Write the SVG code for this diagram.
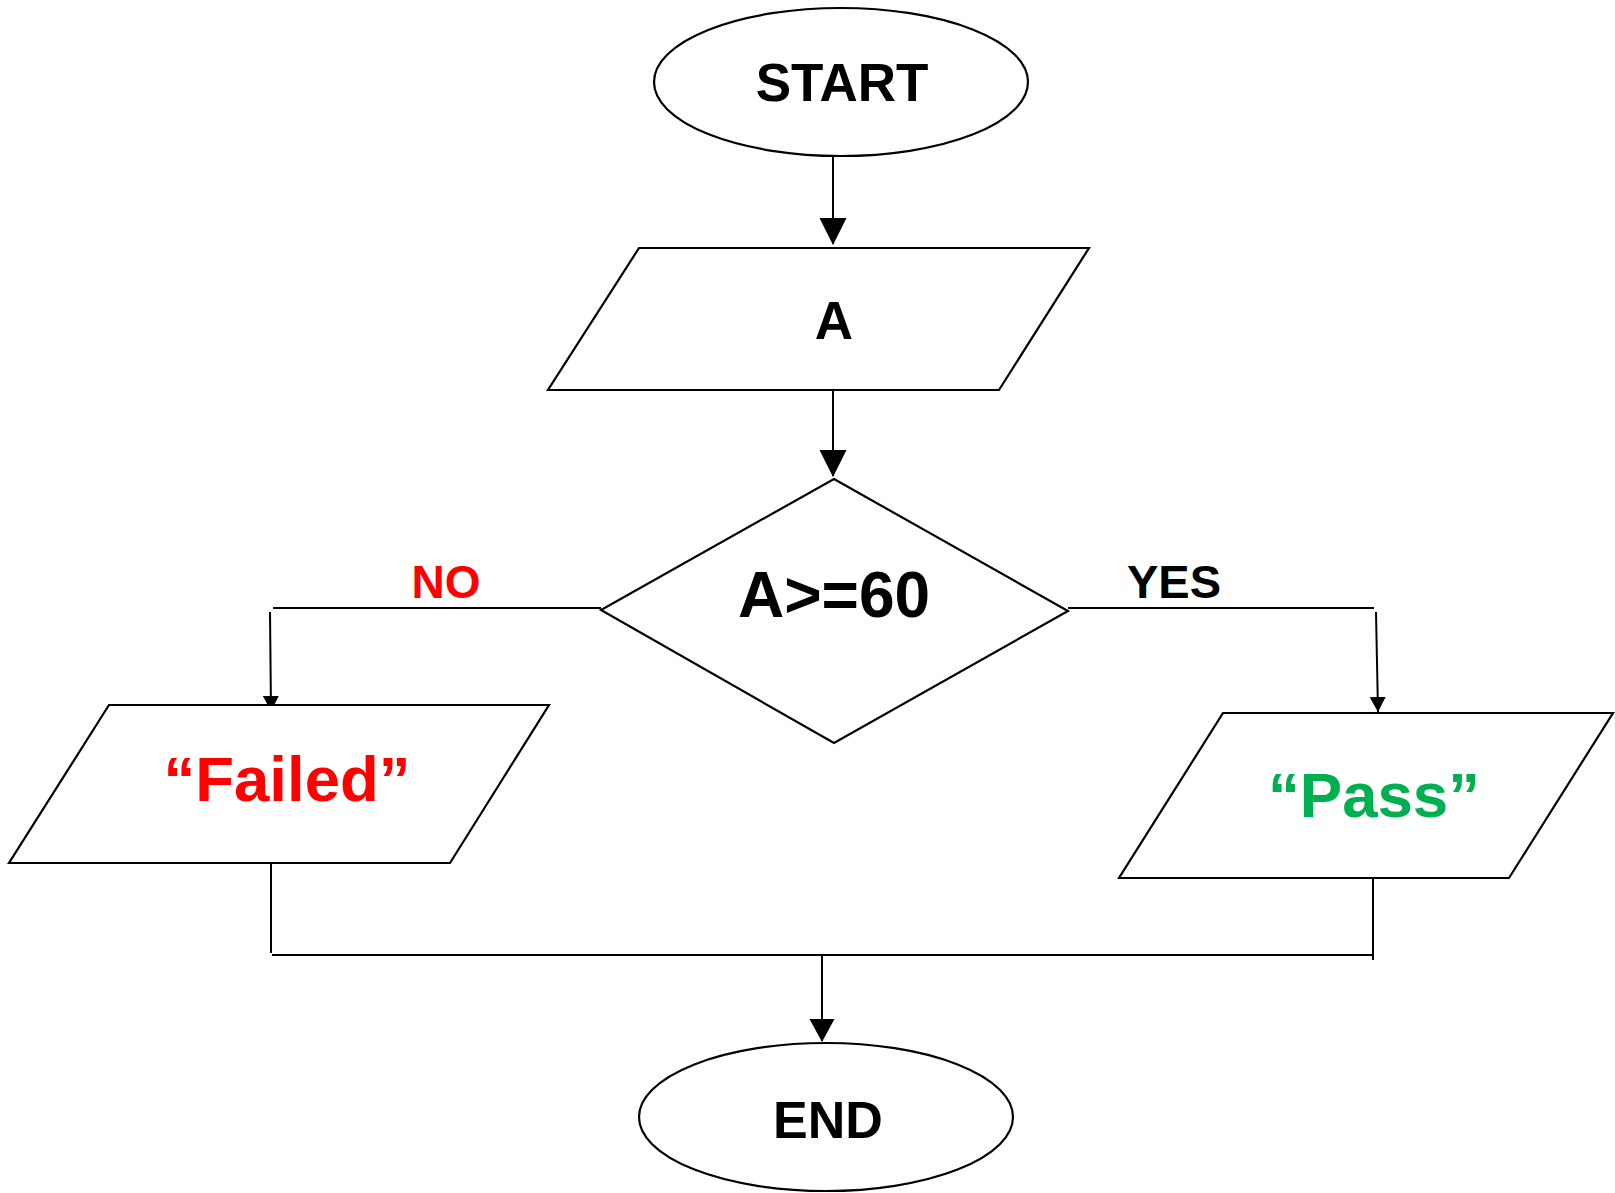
<svg xmlns="http://www.w3.org/2000/svg" width="1615" height="1193" viewBox="0 0 1615 1193">
  <style>
    .shape { fill: #ffffff; stroke: #000000; stroke-width: 2.2; }
    .line { fill: none; stroke: #000000; stroke-width: 2; }
    .lbl { font-family: "Liberation Sans", Arial, sans-serif; font-weight: bold; text-anchor: middle; }
  </style>
  <defs>
    <marker id="arrowBig" markerUnits="userSpaceOnUse" markerWidth="28" markerHeight="28" refX="26" refY="13.5" orient="auto">
      <path d="M0,0 L27,13.5 L0,27 z" fill="#000000"/>
    </marker>
    <marker id="arrowMid" markerUnits="userSpaceOnUse" markerWidth="26" markerHeight="26" refX="22" refY="12.5" orient="auto">
      <path d="M0,0 L23,12.5 L0,25 z" fill="#000000"/>
    </marker>
    <marker id="arrowSmall" markerUnits="userSpaceOnUse" markerWidth="18" markerHeight="18" refX="15" refY="8" orient="auto">
      <path d="M0,0 L15,8 L0,16 z" fill="#000000"/>
    </marker>
  </defs>

  <rect width="1615" height="1193" fill="#ffffff"/>

  <!-- connectors -->
  <g id="connectors">
    <line class="line" x1="833" y1="156" x2="833" y2="244" marker-end="url(#arrowBig)"/>
    <line class="line" x1="833" y1="390" x2="833" y2="476" marker-end="url(#arrowBig)"/>
    <!-- NO branch -->
    <line class="line" x1="273" y1="608" x2="601" y2="608"/>
    <line class="line" x1="270" y1="612" x2="271" y2="711" marker-end="url(#arrowSmall)"/>
    <!-- YES branch -->
    <line class="line" x1="1068" y1="608" x2="1374" y2="608"/>
    <line class="line" x1="1376" y1="612" x2="1378" y2="712" marker-end="url(#arrowSmall)"/>
    <!-- merge to END -->
    <line class="line" x1="271" y1="863" x2="271" y2="953"/>
    <line class="line" x1="1373" y1="878" x2="1373" y2="960"/>
    <line class="line" x1="272" y1="955" x2="1373" y2="955"/>
    <line class="line" x1="822" y1="956" x2="822" y2="1041" marker-end="url(#arrowMid)"/>
  </g>

  <g id="start">
    <ellipse class="shape" cx="841" cy="82" rx="187" ry="74"/>
    <text class="lbl" x="842" y="101" font-size="53" fill="#000000">START</text>
  </g>

  <g id="input-a">
    <polygon class="shape" points="639,248 1089,248 999,390 548,390"/>
    <text class="lbl" x="834" y="339" font-size="53" fill="#000000">A</text>
  </g>

  <g id="decision">
    <polygon class="shape" points="834,479 1068,611 834,743 601,610"/>
    <text class="lbl" x="834" y="617" font-size="64" fill="#000000">A&gt;=60</text>
  </g>

  <g id="label-no">
    <text class="lbl" x="446" y="598" font-size="46" fill="#ff0000">NO</text>
  </g>

  <g id="label-yes">
    <text class="lbl" x="1174" y="598" font-size="47" fill="#000000">YES</text>
  </g>

  <g id="output-failed">
    <polygon class="shape" points="109,705 549,705 450,863 9,863"/>
    <text class="lbl" x="287" y="801" font-size="63.5" fill="#ff0000">“Failed”</text>
  </g>

  <g id="output-pass">
    <polygon class="shape" points="1223,713 1613,713 1509,878 1119,878"/>
    <text class="lbl" x="1374" y="817" font-size="63.5" fill="#00b050">“Pass”</text>
  </g>

  <g id="end">
    <ellipse class="shape" cx="826" cy="1117" rx="187" ry="74"/>
    <text class="lbl" x="828" y="1138" font-size="52" fill="#000000">END</text>
  </g>
</svg>
